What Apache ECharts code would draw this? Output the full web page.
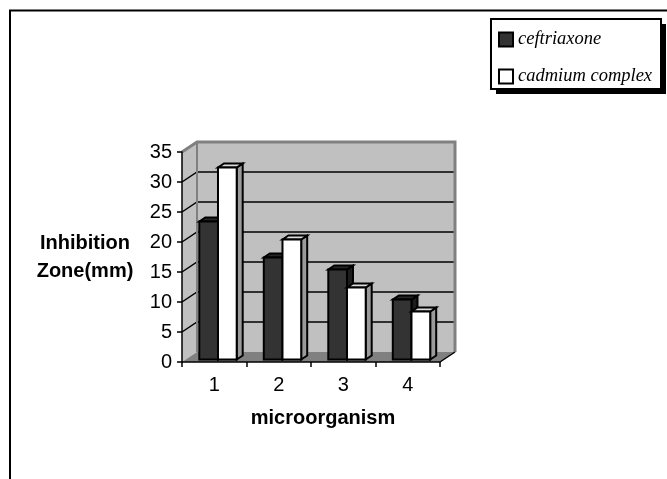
<!DOCTYPE html>
<html>
<head>
<meta charset="utf-8">
<script src="https://cdn.jsdelivr.net/npm/echarts@6/dist/echarts.min.js"></script>
<style>
html,body{margin:0;padding:0;background:#fff;}
#chart{width:667px;height:479px;}
</style>
</head>
<body>
<div id="chart"></div>
<script>
const categories = ['1', '2', '3', '4'];
const ceftriaxone = [23, 17, 15, 10];
const cadmiumComplex = [32, 20, 12, 8];
const seriesNames = ['ceftriaxone', 'cadmium complex'];
const yAxisName = 'Inhibition\nZone(mm)';
const xAxisName = 'microorganism';

const DEPTH_X = 15, DEPTH_Y = -10;

const faceStyles = [
  { front: '#333333', side: '#1c1c1c', top: '#262626' },
  { front: '#ffffff', side: '#9a9a9a', top: '#dcdcdc' }
];

function barRenderer(sIdx) {
  return function (params, api) {
    const idx = api.value(0), v = api.value(1);
    const top = api.coord([idx, v]);
    const base = api.coord([idx, 0]);
    const band = api.size([1, 0])[0];
    const w = band * 0.29;
    const ox = band * 0.058, oy = -2.5;
    const c = top[0] + ox;
    const x0 = sIdx === 0 ? c - w : c;
    const yT = top[1] + oy, yB = base[1] + oy;
    const dx = 6, dy = -4;
    const st = faceStyles[sIdx];
    const stroke = { stroke: '#000', lineWidth: 2, lineJoin: 'miter' };
    return {
      type: 'group',
      children: [
        { type: 'polygon', shape: { points: [[x0 + w, yT], [x0 + w + dx, yT + dy], [x0 + w + dx, yB + dy], [x0 + w, yB]] },
          style: Object.assign({ fill: st.side }, stroke) },
        { type: 'polygon', shape: { points: [[x0, yT], [x0 + dx, yT + dy], [x0 + w + dx, yT + dy], [x0 + w, yT]] },
          style: Object.assign({ fill: st.top }, stroke) },
        { type: 'rect', shape: { x: x0, y: yT, width: w, height: yB - yT },
          style: Object.assign({ fill: st.front }, stroke) }
      ]
    };
  };
}

function wallRenderer(params, api) {
  const cs = params.coordSys;
  const L = cs.x, R = cs.x + cs.width, T = cs.y, B = cs.y + cs.height;
  const children = [
    { type: 'polygon', shape: { points: [[L, T], [L + DEPTH_X, T + DEPTH_Y], [L + DEPTH_X, B + DEPTH_Y], [L, B]] },
      style: { fill: '#c0c0c0' } },
    { type: 'rect', shape: { x: L + DEPTH_X, y: T + DEPTH_Y, width: cs.width, height: cs.height },
      style: { fill: '#c0c0c0' } },
    { type: 'polygon', shape: { points: [[L, B], [L + DEPTH_X, B + DEPTH_Y], [R + DEPTH_X, B + DEPTH_Y], [R, B]] },
      style: { fill: '#808080' } }
  ];
  for (let v = 5; v <= 30; v += 5) {
    const y = api.coord([0, v])[1];
    children.push({ type: 'polyline', shape: { points: [[L, y], [L + DEPTH_X, y + DEPTH_Y], [R + DEPTH_X, y + DEPTH_Y]] },
      style: { stroke: '#000', lineWidth: 1.5, fill: null } });
  }
  children.push({ type: 'polyline', shape: { points: [[L, T], [L + DEPTH_X, T + DEPTH_Y], [R + DEPTH_X, T + DEPTH_Y], [R + DEPTH_X, B + DEPTH_Y]] },
    style: { stroke: '#808080', lineWidth: 3, fill: null } });
  children.push({ type: 'line', shape: { x1: L + DEPTH_X, y1: T + DEPTH_Y, x2: L + DEPTH_X, y2: B + DEPTH_Y },
    style: { stroke: '#808080', lineWidth: 2 } });
  children.push({ type: 'line', shape: { x1: R, y1: B, x2: R + DEPTH_X, y2: B + DEPTH_Y },
    style: { stroke: '#000', lineWidth: 1.5 } });
  return { type: 'group', children: children };
}

const chart = echarts.init(document.getElementById('chart'), null, { renderer: 'canvas' });
const axisFont = { fontFamily: 'Liberation Sans, Arial, sans-serif', fontSize: 20, color: '#000' };

chart.setOption({
  backgroundColor: '#ffffff',
  animation: false,
  grid: { left: 182, right: 227, top: 152, bottom: 117, containLabel: false },
  graphic: [
    { type: 'polyline', z: 0, shape: { points: [[10, 479], [10, 10.5], [667, 10.5]] },
      style: { stroke: '#000', lineWidth: 2, fill: null } },
    { type: 'rect', z: 1, shape: { x: 496, y: 24, width: 170, height: 70 }, style: { fill: '#000' } },
    { type: 'rect', z: 2, shape: { x: 491, y: 19, width: 170, height: 70 },
      style: { fill: '#fff', stroke: '#000', lineWidth: 2 } }
  ],
  legend: {
    orient: 'vertical', left: 498, top: 30, padding: 0, z: 10,
    itemGap: 18, itemWidth: 14, itemHeight: 14, selectedMode: false,
    textStyle: { fontFamily: 'Liberation Serif, Times New Roman, serif', fontStyle: 'italic', fontSize: 18.5, color: '#000' },
    data: [
      { name: seriesNames[0], icon: 'rect', itemStyle: { color: '#333333', borderColor: '#000', borderWidth: 2 } },
      { name: seriesNames[1], icon: 'rect', itemStyle: { color: '#ffffff', borderColor: '#000', borderWidth: 2 } }
    ]
  },
  xAxis: {
    type: 'category', data: categories, z: 5,
    axisLine: { lineStyle: { color: '#000', width: 1.5 } },
    axisTick: { show: true, length: 5, lineStyle: { color: '#000', width: 1.5 } },
    axisLabel: Object.assign({ margin: 13 }, axisFont),
    splitLine: { show: false },
    name: xAxisName, nameLocation: 'middle', nameGap: 46,
    nameTextStyle: Object.assign({}, axisFont, { fontWeight: 'bold', padding: [0, 0, 0, 24] })
  },
  yAxis: {
    type: 'value', min: 0, max: 35, interval: 5, z: 5,
    axisLine: { show: true, lineStyle: { color: '#000', width: 1.5 } },
    axisTick: { show: true, length: 5, lineStyle: { color: '#000', width: 1.5 } },
    axisLabel: Object.assign({ margin: 10 }, axisFont),
    splitLine: { show: false },
    name: yAxisName, nameLocation: 'middle', nameGap: 97, nameRotate: 0,
    nameTextStyle: Object.assign({}, axisFont, { fontWeight: 'bold', align: 'center', verticalAlign: 'middle', lineHeight: 28, padding: [6, 0, 0, 0] })
  },
  series: [
    { type: 'custom', name: 'walls', z: 1, silent: true, renderItem: wallRenderer, data: [[0, 0]], encode: { x: 0, y: 1 } },
    { type: 'custom', name: seriesNames[0], z: 2, renderItem: barRenderer(0),
      itemStyle: { color: '#333333' },
      data: categories.map((c, i) => [i, ceftriaxone[i]]), encode: { x: 0, y: 1 } },
    { type: 'custom', name: seriesNames[1], z: 3, renderItem: barRenderer(1),
      itemStyle: { color: '#ffffff' },
      data: categories.map((c, i) => [i, cadmiumComplex[i]]), encode: { x: 0, y: 1 } }
  ]
});
</script>
</body>
</html>
